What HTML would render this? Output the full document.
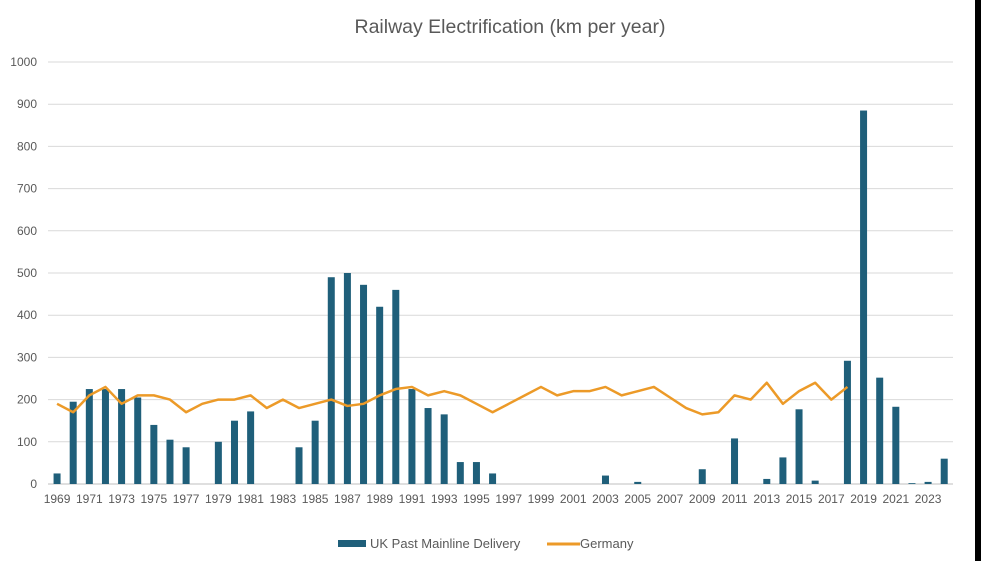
<!DOCTYPE html>
<html><head><meta charset="utf-8"><style>
body{margin:0;background:#fff;width:981px;height:561px;overflow:hidden;font-family:"Liberation Sans",sans-serif}
</style></head><body>
<svg id="c" width="981" height="561" style="position:absolute;left:0;top:0">
<rect x="975" y="0" width="6" height="561" fill="#000"/>
<text x="510" y="33" text-anchor="middle" font-size="19.5" fill="#595959">Railway Electrification (km per year)</text>
<g id="grid"></g><g id="bars"></g><g id="line"></g><g id="xl"></g>
<g>
<rect x="338" y="540" width="28" height="7" fill="#1f5f7a"/>
<text x="370" y="548" font-size="13" fill="#595959">UK Past Mainline Delivery</text>
<line x1="547" y1="544" x2="580" y2="544" stroke="#ec9a28" stroke-width="3"/>
<text x="580" y="548" font-size="13" fill="#595959">Germany</text>
</g>
</svg>
<script>
const years=[];for(let y=1969;y<=2024;y++)years.push(y);
const uk=[25,195,225,225,225,205,140,105,87,0,100,150,172,0,0,87,150,490,500,472,420,460,225,180,165,52,52,25,0,0,0,0,0,0,20,0,5,0,0,0,35,0,108,0,12,63,177,8,0,292,885,252,183,2,5,60];
const germany=[190,170,210,230,190,210,210,200,170,190,200,200,210,180,200,180,190,200,185,190,210,225,230,210,220,210,190,170,190,210,230,210,220,220,230,210,220,230,205,180,165,170,210,200,240,190,220,240,200,230];
const yTicks=[0,100,200,300,400,500,600,700,800,900,1000];
const NS='http://www.w3.org/2000/svg';
const x0=49,step=16.13,yb=484,yk=0.422;
const X=i=>x0+step*(i+0.5), Y=v=>yb-v*yk;
function mk(t,a,p){const e=document.createElementNS(NS,t);for(const k in a)e.setAttribute(k,a[k]);p.appendChild(e);return e;}
const g=document.getElementById('grid');
yTicks.forEach(v=>{
 const l=mk('line',{x1:48,x2:953,y1:Y(v),y2:Y(v),stroke:v?'#d9d9d9':'#bfbfbf','stroke-width':1},g);
 
 
 const t=mk('text',{x:37,y:Y(v)+4,'text-anchor':'end','font-size':12,fill:'#595959'},g);
 t.textContent=v;
 
 
});
const b=document.getElementById('bars');
uk.forEach((v,i)=>{
 const r=mk('rect',{x:X(i)-3.5,y:Y(v),width:7,height:v*yk,fill:'#1f5f7a'},b);
 
 
});
const pl=mk('polyline',{points:germany.map((v,i)=>X(i)+','+Y(v)).join(' '),fill:'none',stroke:'#ec9a28','stroke-width':2.5,'stroke-linejoin':'round'},document.getElementById('line'));


const xl=document.getElementById('xl');
years.forEach((y,i)=>{if(i%2)return;
 const t=mk('text',{x:X(i),y:503,'text-anchor':'middle','font-size':12,fill:'#595959'},xl);
 t.textContent=y;
 
 
});
</script>
</body></html>
